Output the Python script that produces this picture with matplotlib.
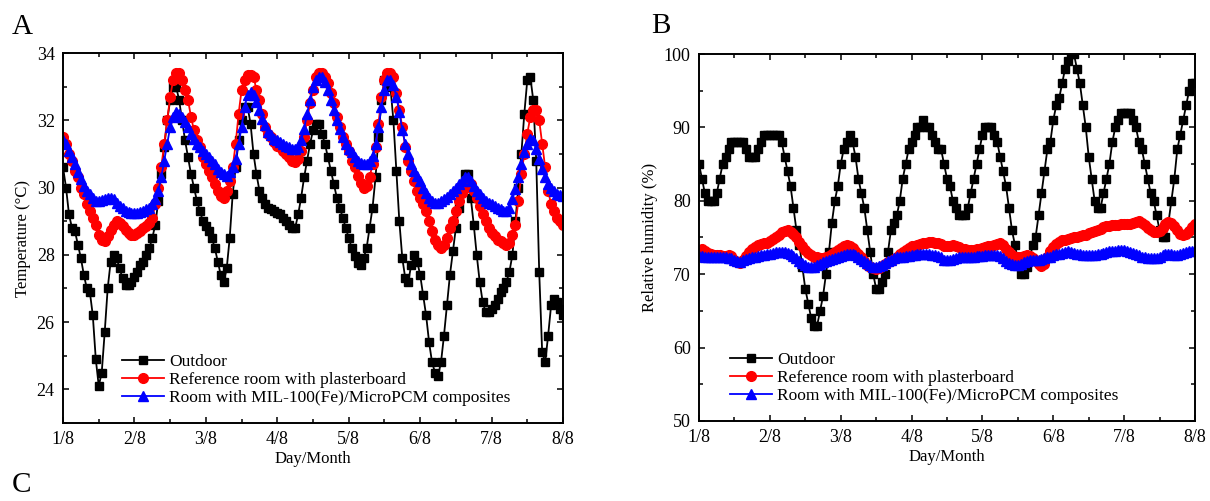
import numpy as np
import matplotlib
matplotlib.use("Agg")
from matplotlib import pyplot as plt
from matplotlib.ticker import MultipleLocator

plt.rcParams['font.family'] = ['Liberation Serif', 'DejaVu Serif']
plt.rcParams['mathtext.fontset'] = 'stix'

# hourly readings, 1/8 00:00 .. 8/8 00:00 (169 points)
day_labels = ['1/8', '2/8', '3/8', '4/8', '5/8', '6/8', '7/8', '8/8']
series_names = ['Outdoor', 'Reference room with plasterboard',
                'Room with MIL-100(Fe)/MicroPCM composites']

temp_outdoor = [
    30.6, 30.0, 29.2, 28.8, 28.7, 28.3, 27.9, 27.4, 27.0, 26.9, 26.2, 24.9, 24.1, 24.5, 25.7, 27.0, 27.8, 28.0, 27.9, 27.6, 27.3, 27.1, 27.1, 27.2,
    27.35, 27.5, 27.7, 27.8, 28.0, 28.2, 28.5, 28.9, 29.6, 30.4, 31.2, 32.0, 32.6, 33.0, 33.0, 32.6, 32.0, 31.4, 30.9, 30.4, 30.0, 29.6, 29.3, 29.0,
    28.85, 28.7, 28.5, 28.2, 27.8, 27.4, 27.2, 27.6, 28.5, 29.8, 30.6, 31.4, 32.0, 32.4, 32.4, 31.9, 31.0, 30.4, 29.9, 29.7, 29.5, 29.4, 29.35, 29.3,
    29.25, 29.2, 29.1, 29.0, 28.9, 28.8, 28.8, 29.2, 29.7, 30.3, 30.8, 31.3, 31.7, 31.9, 31.9, 31.6, 31.3, 30.9, 30.5, 30.1, 29.7, 29.4, 29.1, 28.8,
    28.5, 28.2, 27.95, 27.75, 27.7, 27.9, 28.2, 28.8, 29.4, 30.3, 31.5, 32.6, 33.2, 33.3, 33.0, 32.0, 30.5, 29.0, 27.9, 27.3, 27.2, 27.7, 28.0, 27.8,
    27.4, 26.8, 26.2, 25.4, 24.8, 24.5, 24.4, 24.8, 25.6, 26.5, 27.4, 28.1, 28.8, 29.4, 30.0, 30.4, 30.4, 29.7, 28.9, 28.0, 27.2, 26.6, 26.3, 26.3,
    26.4, 26.5, 26.7, 26.9, 27.0, 27.2, 27.5, 28.0, 29.0, 30.0, 31.0, 32.2, 33.2, 33.3, 32.6, 30.8, 27.5, 25.1, 24.8, 25.6, 26.5, 26.7, 26.6, 26.4,
    26.2]

temp_reference = [
    31.5, 31.3, 31.0, 30.8, 30.5, 30.3, 30.0, 29.8, 29.5, 29.3, 29.1, 28.9, 28.6, 28.45, 28.4, 28.55, 28.75, 28.9, 29.0, 28.95, 28.85, 28.75, 28.65, 28.6,
    28.6, 28.65, 28.7, 28.8, 28.85, 28.95, 29.1, 29.5, 30.0, 30.6, 31.3, 32.0, 32.7, 33.2, 33.4, 33.4, 33.2, 32.9, 32.6, 32.1, 31.7, 31.4, 31.2, 30.9,
    30.7, 30.5, 30.3, 30.1, 29.9, 29.75, 29.7, 29.9, 30.2, 30.6, 31.3, 32.2, 32.9, 33.2, 33.35, 33.35, 33.3, 32.9, 32.6, 32.2, 31.8, 31.6, 31.5, 31.35,
    31.25, 31.2, 31.1, 31.0, 30.9, 30.8, 30.75, 30.85, 31.1, 31.5, 32.0, 32.5, 32.9, 33.3, 33.4, 33.4, 33.3, 33.1, 32.8, 32.5, 32.1, 31.8, 31.5, 31.3,
    31.1, 30.8, 30.6, 30.35, 30.15, 30.0, 30.05, 30.3, 30.7, 31.2, 31.9, 32.7, 33.2, 33.4, 33.4, 33.3, 32.8, 32.3, 31.8, 31.2, 30.8, 30.5, 30.2, 29.9,
    29.7, 29.5, 29.3, 29.0, 28.7, 28.45, 28.3, 28.2, 28.3, 28.5, 28.8, 29.0, 29.3, 29.6, 29.85, 30.0, 30.15, 30.1, 29.9, 29.7, 29.45, 29.2, 29.0, 28.8,
    28.65, 28.55, 28.45, 28.4, 28.35, 28.3, 28.35, 28.6, 28.9, 29.6, 30.4, 31.0, 31.6, 32.1, 32.3, 32.3, 32.0, 31.3, 30.6, 29.9, 29.5, 29.3, 29.1, 29.0,
    28.9]

temp_pcm = [
    31.4, 31.3, 31.1, 30.9, 30.7, 30.45, 30.25, 30.05, 29.9, 29.8, 29.7, 29.6, 29.6, 29.62, 29.65, 29.68, 29.7, 29.65, 29.55, 29.45, 29.38, 29.3, 29.27, 29.25,
    29.25, 29.25, 29.27, 29.3, 29.35, 29.4, 29.5, 29.65, 29.9, 30.3, 30.8, 31.3, 31.8, 32.1, 32.25, 32.2, 32.1, 31.95, 31.8, 31.6, 31.45, 31.3, 31.2, 31.1,
    31.0, 30.9, 30.8, 30.7, 30.55, 30.45, 30.4, 30.35, 30.45, 30.6, 30.85, 31.3, 31.8, 32.4, 32.75, 32.85, 32.75, 32.55, 32.3, 32.05, 31.85, 31.65, 31.55, 31.45,
    31.4, 31.35, 31.3, 31.25, 31.2, 31.15, 31.15, 31.2, 31.4, 31.75, 32.2, 32.6, 33.0, 33.2, 33.3, 33.3, 33.15, 32.9, 32.6, 32.3, 32.0, 31.75, 31.5, 31.3,
    31.15, 31.05, 30.9, 30.8, 30.72, 30.7, 30.7, 30.8, 30.95, 31.3, 31.8, 32.4, 32.9, 33.2, 33.2, 33.05, 32.7, 32.25, 31.7, 31.3, 31.0, 30.7, 30.5, 30.35,
    30.2, 30.0, 29.85, 29.7, 29.6, 29.55, 29.55, 29.6, 29.65, 29.72, 29.8, 29.9, 30.0, 30.1, 30.2, 30.3, 30.3, 30.2, 30.05, 29.9, 29.8, 29.68, 29.6, 29.55,
    29.5, 29.45, 29.4, 29.35, 29.3, 29.3, 29.4, 29.65, 29.95, 30.3, 30.7, 31.05, 31.3, 31.45, 31.4, 31.15, 30.85, 30.55, 30.3, 30.1, 29.98, 29.9, 29.82, 29.78,
    29.75]

rh_outdoor = [
    85, 83, 81, 80, 80, 80, 81, 83, 85, 86, 87, 88, 88, 88, 88, 88, 87, 86, 86, 86, 87, 88, 89, 89,
    89, 89, 89, 89, 88, 86, 84, 82, 79, 76, 74, 71, 68, 66, 64, 63, 63, 65, 67, 70, 73, 77, 80, 82,
    85, 87, 88, 89, 88, 86, 83, 81, 79, 76, 73, 70, 68, 68, 69, 70, 73, 76, 77, 78, 80, 83, 85, 87,
    88, 89, 90, 90, 91, 90, 90, 89, 88, 87, 87, 85, 83, 82, 80, 79, 78, 78, 78, 79, 81, 83, 85, 87,
    89, 90, 90, 90, 89, 88, 86, 84, 82, 79, 76, 74, 72, 70, 70, 71, 72, 74, 75, 78, 81, 84, 87, 88,
    91, 93, 94, 96, 98, 99, 100, 100, 98, 96, 93, 90, 86, 83, 80, 79, 79, 81, 83, 85, 88, 90, 91, 92,
    92, 92, 92, 91, 90, 88, 87, 85, 83, 81, 80, 78, 76, 75, 75, 77, 80, 83, 87, 89, 91, 93, 95, 96,
    96]

rh_reference = [
    73.3, 73.5, 73.2, 72.9, 72.7, 72.6, 72.6, 72.6, 72.5, 72.5, 72.6, 72.5, 72.0, 71.6, 71.5, 71.9, 72.5, 73.0, 73.4, 73.7, 74.0, 74.1, 74.2, 74.3,
    74.5, 74.8, 75.1, 75.4, 75.7, 75.9, 76.0, 75.8, 75.5, 75.0, 74.4, 73.8, 73.3, 72.9, 72.6, 72.4, 72.3, 72.2, 72.2, 72.3, 72.5, 72.7, 73.0, 73.3,
    73.6, 73.8, 74.0, 73.9, 73.6, 73.2, 72.8, 72.3, 71.8, 71.3, 71.0, 70.8, 70.7, 70.8, 71.1, 71.4, 71.6, 71.8, 72.1, 72.4, 72.7, 73.0, 73.3, 73.6,
    73.8, 73.9, 74.0, 74.1, 74.2, 74.3, 74.4, 74.4, 74.3, 74.2, 74.1, 73.9, 73.8, 73.9, 74.0, 73.9, 73.7, 73.5, 73.4, 73.3, 73.3, 73.3, 73.4, 73.5,
    73.6, 73.7, 73.8, 73.9, 74.0, 74.1, 74.2, 74.0, 73.5, 73.0, 72.6, 72.4, 72.4, 72.4, 72.5, 72.6, 72.5, 72.2, 71.8, 71.4, 71.1, 71.4, 72.3, 73.1,
    73.7, 74.1, 74.4, 74.6, 74.7, 74.8, 74.9, 75.0, 75.1, 75.2, 75.3, 75.4, 75.6, 75.8, 75.9, 76.0, 76.2, 76.4, 76.5, 76.6, 76.7, 76.7, 76.7, 76.8,
    76.9, 76.9, 76.9, 77.0, 77.1, 77.2, 77.0, 76.7, 76.3, 76.0, 75.8, 75.7, 75.9, 76.3, 76.8, 77.1, 77.0, 76.6, 76.0, 75.5, 75.3, 75.5, 75.9, 76.4,
    76.8]

rh_pcm = [
    72.5, 72.5, 72.4, 72.4, 72.4, 72.4, 72.4, 72.4, 72.3, 72.3, 72.2, 72.2, 72.0, 71.8, 71.7, 71.9, 72.1, 72.2, 72.3, 72.4, 72.5, 72.6, 72.6, 72.7,
    72.8, 72.9, 73.0, 73.0, 73.0, 73.0, 72.9, 72.7, 72.5, 72.2, 71.8, 71.5, 71.2, 71.0, 71.0, 71.0, 71.2, 71.4, 71.6, 71.8, 72.0, 72.1, 72.2, 72.3,
    72.5, 72.6, 72.7, 72.8, 72.7, 72.6, 72.4, 72.1, 71.8, 71.5, 71.2, 71.0, 71.0, 71.1, 71.3, 71.5, 71.8, 72.0, 72.2, 72.3, 72.4, 72.4, 72.5, 72.5,
    72.6, 72.6, 72.7, 72.7, 72.8, 72.8, 72.7, 72.6, 72.6, 72.5, 72.3, 72.0, 71.9, 72.0, 72.1, 72.2, 72.3, 72.4, 72.4, 72.4, 72.4, 72.4, 72.5, 72.5,
    72.5, 72.6, 72.6, 72.6, 72.6, 72.6, 72.5, 72.2, 71.8, 71.5, 71.4, 71.3, 71.3, 71.4, 71.6, 71.8, 71.9, 71.9, 71.9, 72.0, 72.1, 72.2, 72.3, 72.4,
    72.6, 72.7, 72.8, 72.9, 73.0, 73.1, 73.0, 72.9, 72.8, 72.7, 72.6, 72.6, 72.6, 72.6, 72.6, 72.7, 72.8, 72.9, 73.0, 73.1, 73.2, 73.2, 73.3, 73.3,
    73.3, 73.2, 73.0, 72.9, 72.8, 72.6, 72.4, 72.3, 72.2, 72.2, 72.2, 72.2, 72.4, 72.6, 72.8, 72.8, 72.7, 72.6, 72.6, 72.7, 72.9, 73.0, 73.1, 73.2,
    73.3]

days = np.arange(len(temp_outdoor)) / 24.0

styles = [dict(color='black', marker='s', ms=6),
          dict(color='red', marker='o', ms=7),
          dict(color='blue', marker='^', ms=7.5)]


def style_axes(ax, ymin, ymax, ymajor, yminor):
    ax.set_xlim(0, 7)
    ax.set_ylim(ymin, ymax)
    ax.set_xticks(range(8))
    ax.set_xticklabels(day_labels)
    ax.xaxis.set_minor_locator(MultipleLocator(0.5))
    ax.yaxis.set_major_locator(MultipleLocator(ymajor))
    ax.yaxis.set_minor_locator(MultipleLocator(yminor))
    ax.tick_params(which='both', direction='in', top=True, right=True,
                   labelsize=13, width=1.1, pad=6)
    ax.tick_params(which='major', length=4.5)
    ax.tick_params(which='minor', length=3)
    for s in ax.spines.values():
        s.set_linewidth(1.4)
    ax.set_xlabel('Day/Month', fontsize=12, labelpad=2)


fig = plt.figure(figsize=(12.1, 5.01), dpi=100)
axA = fig.add_axes([0.0521, 0.1557, 0.4132, 0.7385])
axB = fig.add_axes([0.5777, 0.1597, 0.4099, 0.7325])

for vals, name, st in zip([temp_outdoor, temp_reference, temp_pcm], series_names, styles):
    axA.plot(days, vals, lw=1.3, label=name, **st)
style_axes(axA, 23, 34, 2, 1)
axA.set_ylabel('Temperature (°C)', fontsize=12, labelpad=4)
axA.legend(loc='lower left', bbox_to_anchor=(0.118, 0.045), frameon=False,
           fontsize=12.5, handlelength=2.4, handletextpad=0.3,
           labelspacing=0.12, borderaxespad=0, borderpad=0)

for vals, name, st in zip([rh_outdoor, rh_reference, rh_pcm], series_names, styles):
    axB.plot(days, vals, lw=1.3, label=name, **st)
style_axes(axB, 50, 100, 10, 5)
axB.set_ylabel('Relative humidity (%)', fontsize=12, labelpad=4)
axB.legend(loc='lower left', bbox_to_anchor=(0.063, 0.045), frameon=False,
           fontsize=12.5, handlelength=2.4, handletextpad=0.3,
           labelspacing=0.12, borderaxespad=0, borderpad=0)

fig.text(0.010, 0.932, 'A', fontsize=21)
fig.text(0.538, 0.935, 'B', fontsize=21)
fig.text(0.010, 0.018, 'C', fontsize=21)

fig.savefig('out.png', dpi=100)
